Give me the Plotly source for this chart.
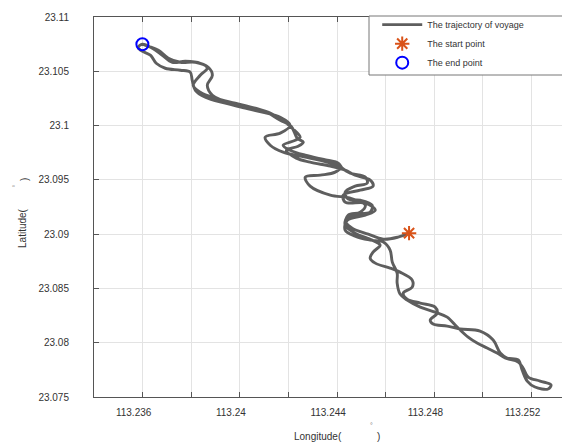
import plotly.graph_objects as go

# Trajectory (longitude, latitude) in travel order
traj_lon = [
    113.24696, 113.24651, 113.24590, 113.24528, 113.24462, 113.24437, 113.24462, 113.24536, 113.24544, 113.24495,
    113.24446, 113.24433, 113.24474, 113.24524, 113.24516, 113.24454, 113.24421, 113.24405, 113.24359, 113.24269,
    113.24207, 113.24178, 113.24228, 113.24248, 113.24215, 113.24187, 113.24125, 113.24063, 113.23981, 113.23899,
    113.23837, 113.23808, 113.23837, 113.23866, 113.23837, 113.23776, 113.23722, 113.23681, 113.23640, 113.23599,
    113.23582,
    113.23591, 113.23632, 113.23656, 113.23693, 113.23755, 113.23796, 113.23804, 113.23817, 113.23858, 113.23940,
    113.24022, 113.24092, 113.24166, 113.24207, 113.24166, 113.24104, 113.24125, 113.24178, 113.24248, 113.24359,
    113.24413, 113.24392, 113.24331, 113.24269, 113.24289, 113.24372, 113.24454, 113.24516, 113.24495, 113.24446,
    113.24433, 113.24474, 113.24544, 113.24577, 113.24548, 113.24536, 113.24557, 113.24618, 113.24659, 113.24709,
    113.24709, 113.24672, 113.24688, 113.24742, 113.24803, 113.24812, 113.24783, 113.24795, 113.24853, 113.24906,
    113.24988, 113.25042, 113.25071, 113.25099, 113.25145, 113.25161, 113.25182, 113.25214, 113.25268, 113.25280,
    113.25235,
    113.25186, 113.25165, 113.25145, 113.25091, 113.25058, 113.25017, 113.24976, 113.24939, 113.24894, 113.24853,
    113.24803, 113.24742, 113.24688, 113.24659, 113.24647, 113.24647, 113.24627, 113.24618, 113.24590, 113.24536,
    113.24474, 113.24433, 113.24442, 113.24516, 113.24557, 113.24516, 113.24433, 113.24425, 113.24495, 113.24548,
    113.24536, 113.24474, 113.24433, 113.24372, 113.24289, 113.24232, 113.24191, 113.24240, 113.24261, 113.24236,
    113.24211, 113.24166, 113.24092, 113.24002, 113.23928, 113.23887, 113.23866, 113.23887, 113.23870, 113.23817,
    113.23755, 113.23706, 113.23665, 113.23623, 113.23599,
]
traj_lat = [
    23.09009, 23.08973, 23.08954, 23.09000, 23.09055, 23.09111, 23.09175, 23.09203, 23.09267, 23.09313,
    23.09322, 23.09387, 23.09442, 23.09470, 23.09525, 23.09562, 23.09608, 23.09654, 23.09681, 23.09727,
    23.09773, 23.09819, 23.09865, 23.09893, 23.09976, 23.10031, 23.10114, 23.10160, 23.10206, 23.10252,
    23.10307, 23.10371, 23.10464, 23.10528, 23.10574, 23.10592, 23.10583, 23.10648, 23.10712, 23.10749,
    23.10721,
    23.10694, 23.10648, 23.10574, 23.10528, 23.10510, 23.10491, 23.10417, 23.10325, 23.10261, 23.10206,
    23.10160, 23.10123, 23.10077, 23.10003, 23.09930, 23.09893, 23.09819, 23.09755, 23.09718, 23.09663,
    23.09617, 23.09571, 23.09543, 23.09525, 23.09442, 23.09359, 23.09332, 23.09267, 23.09203, 23.09175,
    23.09083, 23.09009, 23.08945, 23.08899, 23.08835, 23.08779, 23.08733, 23.08687, 23.08650, 23.08577,
    23.08512, 23.08457, 23.08402, 23.08365, 23.08328, 23.08273, 23.08209, 23.08172, 23.08153, 23.08126,
    23.08107, 23.08025, 23.07905, 23.07859, 23.07841, 23.07749, 23.07647, 23.07592, 23.07574, 23.07611,
    23.07647,
    23.07684, 23.07767, 23.07822, 23.07859, 23.07905, 23.07951, 23.07997, 23.08052, 23.08144, 23.08236,
    23.08282, 23.08328, 23.08393, 23.08448, 23.08549, 23.08641, 23.08743, 23.08853, 23.08927, 23.08945,
    23.08982, 23.09037, 23.09129, 23.09175, 23.09221, 23.09286, 23.09295, 23.09359, 23.09405, 23.09442,
    23.09497, 23.09543, 23.09589, 23.09626, 23.09663, 23.09700, 23.09773, 23.09810, 23.09847, 23.09884,
    23.09994, 23.10049, 23.10141, 23.10178, 23.10233, 23.10279, 23.10371, 23.10464, 23.10537, 23.10583,
    23.10583, 23.10620, 23.10694, 23.10730, 23.10749,
]

start_lon = [113.24696]
start_lat = [23.09009]
end_lon = [113.23599]
end_lat = [23.10749]

x_tickvals = [113.234, 113.236, 113.238, 113.240, 113.242, 113.244, 113.246, 113.248, 113.250, 113.252]
x_ticktext = ["", "113.236", "", "113.24", "", "113.244", "", "113.248", "", "113.252"]
y_tickvals = [23.075, 23.08, 23.085, 23.09, 23.095, 23.1, 23.105, 23.11]
y_ticktext = ["23.075", "23.08", "23.085", "23.09", "23.095", "23.1", "23.105", "23.11"]

FONT = "Liberation Sans, Arial, sans-serif"
AXC = "#555555"

fig = go.Figure()
fig.add_trace(go.Scatter(
    x=traj_lon, y=traj_lat, mode="lines", name="The trajectory of voyage",
    line=dict(color="#5e5e5e", width=2.9, shape="spline", smoothing=1.0),
))
fig.add_trace(go.Scatter(
    x=start_lon, y=start_lat, mode="markers", name="The start point",
    marker=dict(symbol="asterisk-open", size=12, color="#D95319", line=dict(color="#D95319", width=2)),
))
fig.add_trace(go.Scatter(
    x=end_lon, y=end_lat, mode="markers", name="The end point",
    marker=dict(symbol="circle-open", size=12, color="#0000FF", line=dict(color="#0000FF", width=2)),
))

axis_common = dict(
    showline=True, linecolor=AXC, linewidth=1, mirror="ticks",
    ticks="inside", ticklen=5, tickcolor=AXC, tickwidth=1,
    showgrid=True, gridcolor="#e3e3e3", gridwidth=1, zeroline=False,
    automargin=False,
    tickfont=dict(family=FONT, size=10, color="#333333"),
)

# The page body adds an 8px margin, so the figure is sized/offset to compensate.
fig.update_layout(
    template="none",
    width=562, height=435,
    margin=dict(l=86, r=0, t=9, b=46, autoexpand=False),
    paper_bgcolor="white", plot_bgcolor="white",
    showlegend=True,
    legend=dict(
        x=0.595, y=1.018, xanchor="left", yanchor="top",
        bgcolor="rgba(0,0,0,0)", borderwidth=0,
        font=dict(family=FONT, size=9, color="#333333"),
        tracegroupgap=0, itemwidth=40,
    ),
    xaxis=dict(range=[113.234, 113.25358], tickmode="array", tickvals=x_tickvals,
               ticktext=x_ticktext, ticklabelstandoff=6, ticklabelshift=-9, **axis_common),
    yaxis=dict(range=[23.075, 23.11], tickmode="array", tickvals=y_tickvals,
               ticktext=y_ticktext, ticklabelstandoff=22, **axis_common),
)

# legend frame (MATLAB style box)
fig.add_shape(type="rect", xref="paper", yref="paper",
              x0=(369 - 94) / 476, x1=1.0, y0=(397 - 75) / 380, y1=(397 - 16) / 380,
              line=dict(color="#777777", width=1), fillcolor="white", layer="above")

lab_font = dict(family=FONT, size=10, color="#333333")
deg_font = dict(family=FONT, size=7, color="#777777")
fig.add_annotation(xref="paper", yref="paper", x=0.416, y=-0.105, text="Longitude(",
                   showarrow=False, xanchor="left", yanchor="middle", font=lab_font)
fig.add_annotation(xref="paper", yref="paper", x=0.582, y=-0.074, text="°",
                   showarrow=False, xanchor="center", yanchor="middle", font=deg_font)
fig.add_annotation(xref="paper", yref="paper", x=0.597, y=-0.105, text=")",
                   showarrow=False, xanchor="center", yanchor="middle", font=lab_font)
fig.add_annotation(xref="paper", yref="paper", x=-0.149, y=0.445, text="Latitude(",
                   showarrow=False, textangle=-90, xanchor="center", yanchor="middle", font=lab_font)
fig.add_annotation(xref="paper", yref="paper", x=-0.164, y=0.5566, text="°",
                   showarrow=False, textangle=-90, xanchor="center", yanchor="middle", font=deg_font)
fig.add_annotation(xref="paper", yref="paper", x=-0.145, y=0.5737, text=")",
                   showarrow=False, textangle=-90, xanchor="center", yanchor="middle", font=lab_font)

fig.write_html("out.html")
